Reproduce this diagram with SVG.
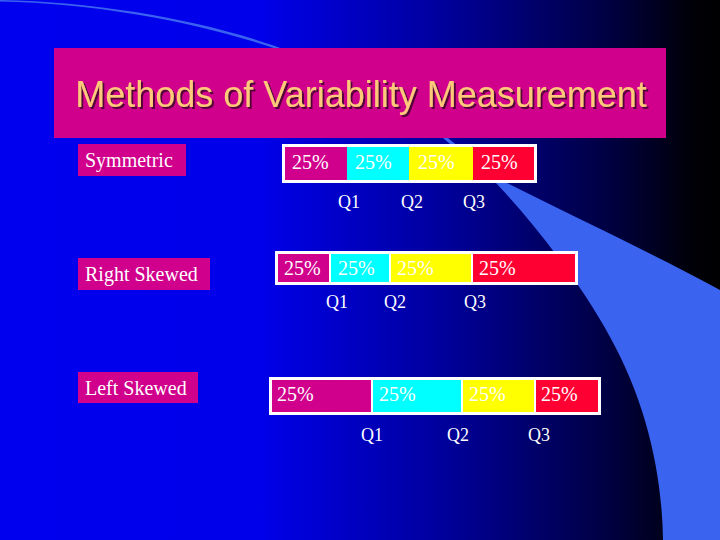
<svg xmlns="http://www.w3.org/2000/svg" width="720" height="540" viewBox="0 0 720 540">
<defs>
<linearGradient id="bg" x1="0" y1="0" x2="1" y2="0">
<stop offset="0" stop-color="#0000EE"/>
<stop offset="0.36" stop-color="#0000EA"/>
<stop offset="0.62" stop-color="#00009A"/>
<stop offset="0.85" stop-color="#000040"/>
<stop offset="0.96" stop-color="#000008"/>
<stop offset="1" stop-color="#000000"/>
</linearGradient>
<filter id="sh" x="-5%" y="-20%" width="110%" height="140%">
<feDropShadow dx="2" dy="2" stdDeviation="0.6" flood-color="#4A0030" flood-opacity="0.9"/>
</filter>
</defs>
<style>
.lbl{fill:#D0008C}
.lt{font-family:"Liberation Serif","Times New Roman",serif;font-size:20px;fill:#FFFFFF}
.pct{font-family:"Liberation Serif","Times New Roman",serif;font-size:20px;fill:#FFFFFF}
.q{font-family:"Liberation Serif","Times New Roman",serif;font-size:18px;fill:#FFFFFF}
.frame{fill:#FFFFFF}
.m{fill:#D0008C}.c{fill:#00FFFF}.y{fill:#FFFF00}.r{fill:#FF0033}
.title{font-family:"Liberation Sans",Arial,sans-serif;font-size:36px;fill:#FFC87A}
</style>
<rect x="0" y="0" width="720" height="540" fill="url(#bg)"/>
<path d="M0,0 C100,2 200,20 275,46 C330,66 400,105 443,134 L497,178 C580,220 650,252 720,290 L720,540 L663,540 C662,470 645,400 610,337 C585,290 540,230 497,184 L443,138 C400,108 330,70 275,48.5 C200,23 100,3.5 0,1.5 Z" fill="#3A64F0"/>
<g id="title">
<rect x="54" y="48" width="612" height="90" fill="#D0008C"/>
<text x="361" y="107" class="title" text-anchor="middle" filter="url(#sh)">Methods of Variability Measurement</text>
</g>
<g id="symmetric-label">
<rect class="lbl" x="78" y="144" width="108" height="32"/>
<text class="lt" x="85" y="167">Symmetric</text>
</g>
<g id="symmetric-bar">
<rect class="frame" x="282" y="144" width="255" height="39"/>
<rect class="m" x="285" y="147" width="62" height="33"/>
<rect class="c" x="347" y="147" width="62" height="33"/>
<rect class="y" x="409" y="147" width="64" height="33"/>
<rect class="r" x="473" y="147" width="61" height="33"/>
<text class="pct" x="292" y="169">25%</text>
<text class="pct" x="355" y="169">25%</text>
<text class="pct" x="418" y="169">25%</text>
<text class="pct" x="481" y="169">25%</text>
<text class="q" x="338" y="208">Q1</text>
<text class="q" x="401" y="208">Q2</text>
<text class="q" x="463" y="208">Q3</text>
</g>
<g id="right-skewed-label">
<rect class="lbl" x="78" y="258" width="132" height="32"/>
<text class="lt" x="85" y="281">Right Skewed</text>
</g>
<g id="right-skewed-bar">
<rect class="frame" x="275" y="251" width="303" height="34"/>
<rect class="m" x="278" y="254" width="51" height="28"/>
<rect class="c" x="331" y="254" width="58" height="28"/>
<rect class="y" x="391" y="254" width="80" height="28"/>
<rect class="r" x="473" y="254" width="102" height="28"/>
<text class="pct" x="284" y="275">25%</text>
<text class="pct" x="338" y="275">25%</text>
<text class="pct" x="397" y="275">25%</text>
<text class="pct" x="479" y="275">25%</text>
<text class="q" x="326" y="308">Q1</text>
<text class="q" x="384" y="308">Q2</text>
<text class="q" x="464" y="308">Q3</text>
</g>
<g id="left-skewed-label">
<rect class="lbl" x="78" y="372" width="120" height="31"/>
<text class="lt" x="85" y="395">Left Skewed</text>
</g>
<g id="left-skewed-bar">
<rect class="frame" x="269" y="377" width="332" height="38"/>
<rect class="m" x="272" y="380" width="99" height="32"/>
<rect class="c" x="373" y="380" width="88" height="32"/>
<rect class="y" x="463" y="380" width="71" height="32"/>
<rect class="r" x="536" y="380" width="62" height="32"/>
<text class="pct" x="277" y="401">25%</text>
<text class="pct" x="379" y="401">25%</text>
<text class="pct" x="469" y="401">25%</text>
<text class="pct" x="541" y="401">25%</text>
<text class="q" x="361" y="441">Q1</text>
<text class="q" x="447" y="441">Q2</text>
<text class="q" x="528" y="441">Q3</text>
</g>
</svg>
